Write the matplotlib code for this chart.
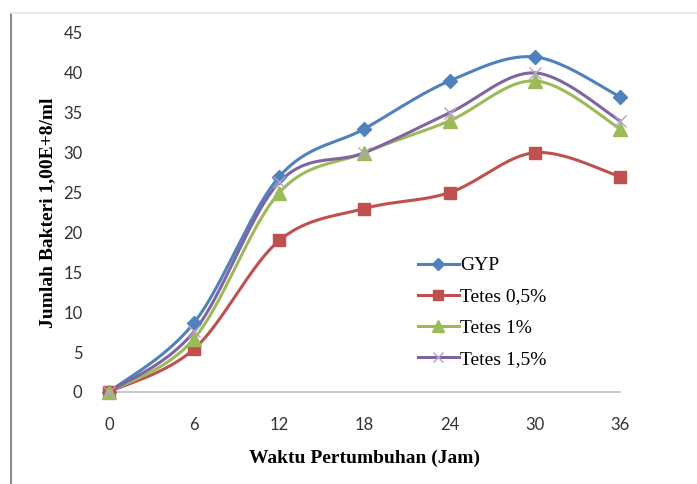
import numpy as np
import matplotlib
matplotlib.use("Agg")
import matplotlib.pyplot as plt
from matplotlib.lines import Line2D

# Growth time (hours) and bacterial counts (x 1,00E+8/ml)
hours = [0, 6, 12, 18, 24, 30, 36]
gyp = [0, 8.7, 27, 33, 39, 42, 37]
tetes_05 = [0, 5.4, 19, 23, 25, 30, 27]
tetes_1 = [0, 6.7, 25, 30, 34, 39, 33]
tetes_15 = [0, 7.6, 26.3, 30, 35, 40, 34]
series_names = ["GYP", "Tetes 0,5%", "Tetes 1%", "Tetes 1,5%"]
y_ticks = [0, 5, 10, 15, 20, 25, 30, 35, 40, 45]


def smooth_curve(xs, ys, n=40):
    """Catmull-Rom style Bezier smoothing through the data points."""
    p = np.column_stack([xs, ys]).astype(float)
    p_ext = np.vstack([p[0], p, p[-1]])
    out = []
    t = np.linspace(0, 1, n)[:, None]
    for i in range(1, len(p_ext) - 2):
        p0, p1, p2, p3 = p_ext[i - 1], p_ext[i], p_ext[i + 1], p_ext[i + 2]
        b1 = p1 + (p2 - p0) / 6.0
        b2 = p2 - (p3 - p1) / 6.0
        seg = ((1 - t) ** 3) * p1 + 3 * ((1 - t) ** 2) * t * b1 \
            + 3 * (1 - t) * t ** 2 * b2 + t ** 3 * p2
        out.append(seg if i == 1 else seg[1:])
    c = np.vstack(out)
    return c[:, 0], c[:, 1]


W, H = 697, 484
fig = plt.figure(figsize=(W / 100, H / 100), dpi=100)
ax = fig.add_axes([109 / W, 1 - 392 / H, (620 - 109) / W, (392 - 33) / H])

styles = [
    dict(color="#4F81BD", marker="D", ms=7.5),
    dict(color="#C0504D", marker="s", ms=9),
    dict(color="#9BBB59", marker="^", ms=9.5),
    dict(color="#8064A2", marker="x", ms=9, mew=1.0),
]
data = [gyp, tetes_05, tetes_1, tetes_15]

handles = []
for name, vals, st in zip(series_names, data, styles):
    sx, sy = smooth_curve(hours, vals)
    ax.plot(sx, sy, color=st["color"], lw=2.2, clip_on=False, zorder=3)
    mk = dict(marker=st["marker"], ms=st["ms"], color=st["color"],
              mec=st["color"], mew=st.get("mew", 1.0))
    if st["marker"] == "x":
        mk["color"] = "#B3A2C7"
        mk["mec"] = "#B3A2C7"
    ax.plot(hours, vals, ls="none", clip_on=False, zorder=4, **mk)
    handles.append(Line2D([0], [0], color=st["color"], lw=2.2,
                          marker=st["marker"], ms=st["ms"] * 0.85,
                          mec=mk["mec"], mfc=mk["color"],
                          mew=st.get("mew", 1.0)))

ax.set_xlim(0, 36)
ax.set_ylim(0, 45)
ax.set_xticks(hours)
ax.set_yticks(y_ticks)
for s in ["top", "right", "left"]:
    ax.spines[s].set_visible(False)
ax.spines["bottom"].set_color("#BFBFBF")
ax.spines["bottom"].set_linewidth(1.2)
ax.tick_params(axis="both", length=0, labelsize=12, labelcolor="#333333")
ax.tick_params(axis="y", pad=19)
ax.tick_params(axis="x", pad=18)
for lab in ax.get_xticklabels() + ax.get_yticklabels():
    lab.set_family("Lato")

ax.set_xlabel("Waktu Pertumbuhan (Jam)", family="Liberation Serif",
              fontweight="bold", fontsize=14, labelpad=12)
ax.set_ylabel("Jumlah Bakteri 1,00E+8/ml", family="Liberation Serif",
              fontweight="bold", fontsize=14, labelpad=5)

leg = ax.legend(handles, series_names, loc="upper left",
                bbox_to_anchor=(299 / 511, (392 - 247) / 359),
                frameon=False, handlelength=2.1, handletextpad=0.1,
                labelspacing=0.7, borderpad=0,
                prop=dict(family="Liberation Serif", size=14))

# Outer frame lines
fig.add_artist(Line2D([11 / W, 11 / W], [0, 1 - 14 / H],
                      color="#8C8C8C", lw=1.5, transform=fig.transFigure))
fig.add_artist(Line2D([11 / W, 1], [1 - 13 / H, 1 - 13 / H],
                      color="#E6E6E6", lw=1.2, transform=fig.transFigure))

fig.savefig("out.png", dpi=100)
